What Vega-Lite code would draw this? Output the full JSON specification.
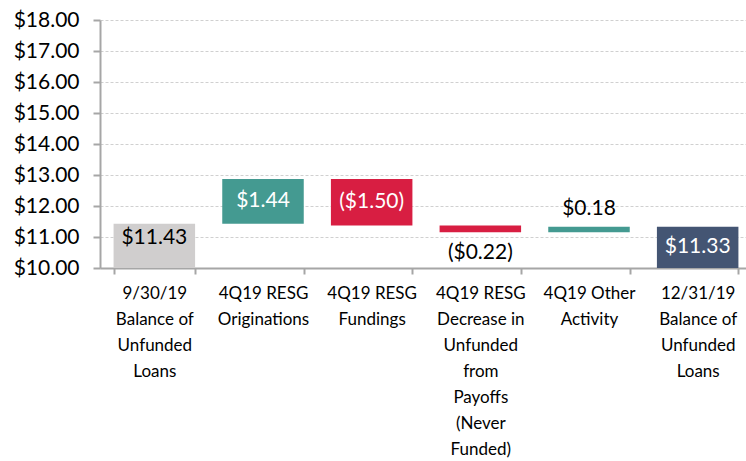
{
  "$schema": "https://vega.github.io/schema/vega-lite/v6.json",
  "width": 652,
  "height": 248,
  "autosize": {"type": "none"},
  "padding": {"left": 100, "top": 20, "right": 0, "bottom": 193},
  "background": "white",
  "config": {"view": {"stroke": null}, "font": "Lato"},
  "data": {
    "values": [
      {"cat": "9/30/19|Balance of|Unfunded|Loans", "start": 10, "end": 11.43, "kind": "total1", "label": "$11.43", "place": "top"},
      {"cat": "4Q19 RESG|Originations", "start": 11.43, "end": 12.87, "kind": "inc", "label": "$1.44", "place": "inside"},
      {"cat": "4Q19 RESG|Fundings", "start": 12.87, "end": 11.37, "kind": "dec", "label": "($1.50)", "place": "inside"},
      {"cat": "4Q19 RESG|Decrease in|Unfunded|from|Payoffs|(Never|Funded)", "start": 11.37, "end": 11.15, "kind": "dec", "label": "($0.22)", "place": "below"},
      {"cat": "4Q19 Other|Activity", "start": 11.15, "end": 11.33, "kind": "inc", "label": "$0.18", "place": "above"},
      {"cat": "12/31/19|Balance of|Unfunded|Loans", "start": 10, "end": 11.33, "kind": "total2", "label": "$11.33", "place": "inside"}
    ]
  },
  "transform": [
    {"calculate": "(datum.start + datum.end) / 2", "as": "mid"},
    {"calculate": "max(datum.start, datum.end)", "as": "hi"},
    {"calculate": "min(datum.start, datum.end)", "as": "lo"}
  ],
  "encoding": {
    "x": {
      "field": "cat",
      "type": "nominal",
      "sort": null,
      "scale": {"paddingInner": 0.25, "paddingOuter": 0.125},
      "axis": {
        "title": null,
        "labelAngle": 0,
        "labelExpr": "split(datum.label, '|')",
        "labelFontSize": 17,
        "labelLineHeight": 26,
        "labelColor": "#000000",
        "labelLimit": 0,
        "labelOverlap": false,
        "labelPadding": 11,
        "labelBaseline": "top",
        "tickBand": "extent",
        "tickSize": 6,
        "tickColor": "#A6A6A6",
        "tickWidth": 2,
        "domainColor": "#A6A6A6",
        "domainWidth": 2
      }
    }
  },
  "layer": [
    {
      "mark": {"type": "bar"},
      "encoding": {
        "y": {
          "field": "start",
          "type": "quantitative",
          "scale": {"domain": [10, 18], "nice": false, "zero": false},
          "axis": {
            "title": null,
            "values": [10, 11, 12, 13, 14, 15, 16, 17, 18],
            "tickCount": 9,
            "format": "$.2f",
            "labelFontSize": 21,
            "labelColor": "#000000",
            "labelOverlap": false,
            "labelPadding": 14,
            "tickSize": 7,
            "tickColor": "#A6A6A6",
            "tickWidth": 2,
            "domainColor": "#A6A6A6",
            "domainWidth": 2,
            "grid": true,
            "gridColor": "#D0D0D0",
            "gridDash": [3, 2],
            "gridWidth": 1
          }
        },
        "y2": {"field": "end"},
        "color": {
          "field": "kind",
          "type": "nominal",
          "scale": {
            "domain": ["total1", "inc", "dec", "total2"],
            "range": ["#D0CECE", "#449A91", "#D81E42", "#445573"]
          },
          "legend": null
        }
      }
    },
    {
      "transform": [{"filter": "datum.place == 'inside'"}],
      "mark": {"type": "text", "fontSize": 21, "color": "#FFFFFF", "baseline": "middle"},
      "encoding": {
        "y": {"field": "mid", "type": "quantitative"},
        "text": {"field": "label"}
      }
    },
    {
      "transform": [{"filter": "datum.place == 'top'"}],
      "mark": {"type": "text", "fontSize": 21, "color": "#000000", "baseline": "middle", "dy": 14},
      "encoding": {
        "y": {"field": "hi", "type": "quantitative"},
        "text": {"field": "label"}
      }
    },
    {
      "transform": [{"filter": "datum.place == 'above'"}],
      "mark": {"type": "text", "fontSize": 21, "color": "#000000", "baseline": "middle", "dy": -18},
      "encoding": {
        "y": {"field": "hi", "type": "quantitative"},
        "text": {"field": "label"}
      }
    },
    {
      "transform": [{"filter": "datum.place == 'below'"}],
      "mark": {"type": "text", "fontSize": 21, "color": "#000000", "baseline": "middle", "dy": 21},
      "encoding": {
        "y": {"field": "lo", "type": "quantitative"},
        "text": {"field": "label"}
      }
    }
  ]
}
